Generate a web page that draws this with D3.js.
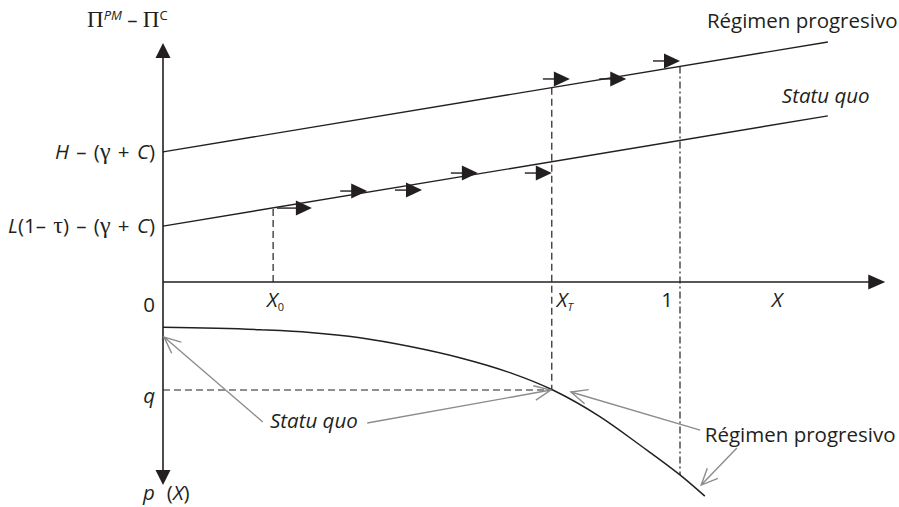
<!DOCTYPE html>
<html>
<head>
<meta charset="utf-8">
<script src="https://cdn.jsdelivr.net/npm/d3@7/dist/d3.min.js"></script>
<style>
  body { margin: 0; background: #fff; }
  text { font-family: "Open Sans", sans-serif; fill: #231f20; }
  .serif { font-family: "Liberation Serif", serif; }
</style>
</head>
<body>
<svg id="chart"></svg>
<script>
// chart values (X along the horizontal axis, Pi upward, p downward)
const progresivo = [[0, 0.542], [1.286, 1.0]];
const statuQuo = [[0, 0.233], [1.286, 0.692]];
const pCurve = [[0, 0.206], [0.188, 0.217], [0.284, 0.229], [0.381, 0.253], [0.478, 0.293],
  [0.574, 0.344], [0.671, 0.412], [0.754, 0.491], [0.845, 0.612], [0.923, 0.742],
  [1.0, 0.877], [1.048, 0.973]];
const x0Value = 0.213;
const xTValue = 0.752;
const xOneValue = 1;
const qValue = 0.491;
// small black direction arrows: tip X, level
const arrowsSQ = [[0.288, 0.308], [0.395, 0.379], [0.501, 0.383], [0.609, 0.454], [0.752, 0.454]];
const arrowsRP = [[0.787, 0.846], [0.896, 0.846], [1.0, 0.921]];
// gray pointer arrows in the lower panel: from [X, p] to [X, p]
const pointers = [
  [[0.193, 0.636], [0.002, 0.25]],
  [[0.395, 0.641], [0.750, 0.491]],
  [[1.039, 0.673], [0.789, 0.50]],
  [[1.110, 0.755], [1.041, 0.923]]
];

const width = 899, height = 507;
const svg = d3.select("#chart").attr("width", width).attr("height", height);

const x = d3.scaleLinear().domain([0, 1]).range([163, 680]);
const yTop = d3.scaleLinear().domain([0, 1]).range([282, 42]);
const yBot = d3.scaleLinear().domain([0, 1]).range([282, 502]);

const ink = "#231f20";
const gray = "#8c8c8c";

const lineAt = (ln, v) => ln[0][1] + (ln[1][1] - ln[0][1]) * (v - ln[0][0]) / (ln[1][0] - ln[0][0]);

// axes
const xEnd = 1.397, topEnd = 0.996, botEnd = 0.923;
svg.append("line").attr("x1", x(0)).attr("x2", x(xEnd) - 14)
  .attr("y1", yTop(0)).attr("y2", yTop(0)).attr("stroke", ink).attr("stroke-width", 1.6);
svg.append("line").attr("x1", x(0)).attr("x2", x(0))
  .attr("y1", yTop(topEnd) + 12).attr("y2", yBot(botEnd) - 12).attr("stroke", ink).attr("stroke-width", 1.6);

const tri = (pts) => "M" + pts.map(p => p.join(",")).join("L") + "Z";
svg.append("path").attr("fill", ink)
  .attr("d", tri([[x(xEnd), yTop(0)], [x(xEnd) - 17, yTop(0) - 7.5], [x(xEnd) - 17, yTop(0) + 7.5]]));
svg.append("path").attr("fill", ink)
  .attr("d", tri([[x(0), yTop(topEnd)], [x(0) - 7.5, yTop(topEnd) + 15], [x(0) + 7.5, yTop(topEnd) + 15]]));
svg.append("path").attr("fill", ink)
  .attr("d", tri([[x(0), yBot(botEnd)], [x(0) - 7.5, yBot(botEnd) - 15], [x(0) + 7.5, yBot(botEnd) - 15]]));

// upper lines
const topLine = d3.line().x(d => x(d[0])).y(d => yTop(d[1]));
[progresivo, statuQuo].forEach(ln => {
  svg.append("path").attr("d", topLine(ln)).attr("fill", "none")
    .attr("stroke", ink).attr("stroke-width", 1.4);
});

// p(X) curve
const botLine = d3.line().x(d => x(d[0])).y(d => yBot(d[1])).curve(d3.curveMonotoneX);
svg.append("path").attr("d", botLine(pCurve)).attr("fill", "none")
  .attr("stroke", ink).attr("stroke-width", 1.5);

// dashed guides
const dash = "7,4";
svg.append("line").attr("x1", x(x0Value)).attr("x2", x(x0Value))
  .attr("y1", yTop(0)).attr("y2", yTop(lineAt(statuQuo, x0Value)))
  .attr("stroke", ink).attr("stroke-width", 1.2).attr("stroke-dasharray", dash);
svg.append("line").attr("x1", x(xTValue)).attr("x2", x(xTValue))
  .attr("y1", yTop(lineAt(progresivo, xTValue))).attr("y2", yBot(qValue))
  .attr("stroke", ink).attr("stroke-width", 1.2).attr("stroke-dasharray", dash);
svg.append("line").attr("x1", x(0)).attr("x2", x(xTValue))
  .attr("y1", yBot(qValue)).attr("y2", yBot(qValue))
  .attr("stroke", ink).attr("stroke-width", 1.2).attr("stroke-dasharray", dash);
svg.append("line").attr("x1", x(xOneValue)).attr("x2", x(xOneValue))
  .attr("y1", yTop(lineAt(progresivo, xOneValue))).attr("y2", yBot(0.877))
  .attr("stroke", ink).attr("stroke-width", 1.2).attr("stroke-dasharray", "7,3,2,3");

// black direction arrows
svg.append("g").selectAll("g").data(arrowsSQ.concat(arrowsRP)).enter().append("g")
  .each(function (d, i) {
    const tx = x(d[0]), ty = yTop(d[1]);
    const tail = i === 0 ? 35 : 27;
    const g = d3.select(this);
    g.append("line").attr("x1", tx - tail).attr("x2", tx - 15).attr("y1", ty).attr("y2", ty)
      .attr("stroke", ink).attr("stroke-width", 1.4);
    g.append("path").attr("fill", ink)
      .attr("d", tri([[tx, ty], [tx - 16, ty - 7.5], [tx - 16, ty + 7.5]]));
  });

// gray pointer arrows
pointers.forEach(p => {
  const x1 = x(p[0][0]), y1 = yBot(p[0][1]), x2 = x(p[1][0]), y2 = yBot(p[1][1]);
  const a = Math.atan2(y1 - y2, x1 - x2);
  const w = 18, s = 0.42;
  svg.append("path").attr("fill", "none").attr("stroke", gray).attr("stroke-width", 1.4)
    .attr("d", `M${x1},${y1}L${x2},${y2}M${x2 + w * Math.cos(a - s)},${y2 + w * Math.sin(a - s)}L${x2},${y2}L${x2 + w * Math.cos(a + s)},${y2 + w * Math.sin(a + s)}`);
});

// labels
const fs = 20.5;
const lab = (px, py, anchor, italic) => svg.append("text").attr("x", px).attr("y", py)
  .attr("text-anchor", anchor).style("font-size", fs + "px").style("font-style", italic ? "italic" : "normal");

let t = lab(x(0) - 8, yTop(0.542) + 7, "end", false).style("word-spacing", "2px");
t.append("tspan").style("font-style", "italic").text("H");
t.append("tspan").text(" – (");
t.append("tspan").attr("class", "serif").style("font-size", "24px").text("γ");
t.append("tspan").text(" + ");
t.append("tspan").style("font-style", "italic").text("C");
t.append("tspan").text(")");

t = lab(x(0) - 8, yTop(0.233) + 7, "end", false).style("word-spacing", "2px");
t.append("tspan").style("font-style", "italic").text("L");
t.append("tspan").text("(1– ");
t.append("tspan").attr("class", "serif").style("font-size", "24px").text("τ");
t.append("tspan").text(") – (");
t.append("tspan").attr("class", "serif").style("font-size", "24px").text("γ");
t.append("tspan").text(" + ");
t.append("tspan").style("font-style", "italic").text("C");
t.append("tspan").text(")");

t = lab(87, 27, "start", false);
t.append("tspan").attr("class", "serif").style("font-size", "23px").text("Π");
t.append("tspan").attr("dy", -7).style("font-size", "13px").style("font-style", "italic").text("PM");
t.append("tspan").attr("dy", 7).text(" – ");
t.append("tspan").attr("class", "serif").style("font-size", "23px").text("Π");
t.append("tspan").attr("dy", -7).style("font-size", "13px").text("C");

lab(x(0) - 8, 312, "end", false).text("0");
lab(x(0) - 8, yBot(qValue) + 13, "end", true).text("q");
t = lab(143, 500, "start", true);
t.append("tspan").text("p");
t.append("tspan").attr("dx", 12).style("font-style", "normal").text("(");
t.append("tspan").text("X");
t.append("tspan").style("font-style", "normal").text(")");

t = lab(x(x0Value) - 6, 307, "start", true);
t.append("tspan").text("X");
t.append("tspan").attr("dy", 4).style("font-size", "11px").style("font-style", "normal").text("0");
t = lab(x(xTValue) + 5, 307, "start", true);
t.append("tspan").text("X");
t.append("tspan").attr("dy", 4).style("font-size", "11px").text("T");
lab(x(xOneValue) - 7, 307, "end", false).text("1");
lab(777, 307, "middle", true).text("X");

lab(x(1.052), yTop(1.058), "start", false).text("Régimen progresivo");
lab(x(1.197), yTop(0.746), "start", true).text("Statu quo");
lab(x(0.207), yBot(0.664), "start", true).text("Statu quo");
lab(x(1.048), yBot(0.727), "start", false).text("Régimen progresivo");
</script>
</body>
</html>
